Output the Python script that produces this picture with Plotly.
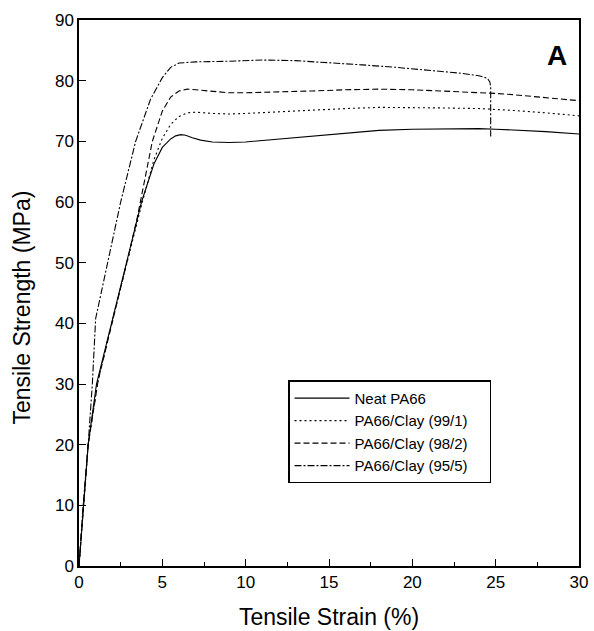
import plotly.graph_objects as go

# ---- data ----
neat_x = [0, 0.27, 0.55, 1.05, 2, 3, 3.75, 4.5, 5, 5.5, 5.8, 6.1, 6.4, 6.8, 7.3, 8, 9, 10, 12, 14, 16, 18, 20, 22, 24, 25, 26, 28, 30]
neat_y = [0, 10, 20, 30, 40.5, 51.5, 60, 66.3, 69.0, 70.4, 70.9, 71.1, 71.0, 70.6, 70.2, 69.9, 69.8, 69.9, 70.4, 70.9, 71.4, 71.8, 72.0, 72.1, 72.1, 72.0, 71.9, 71.6, 71.2]

c991_x = [0, 0.27, 0.55, 1.1, 2, 3, 3.8, 4.5, 5, 5.5, 6, 6.5, 7, 8, 9, 10, 12, 14, 16, 18, 20, 22, 24, 25, 26, 28, 30]
c991_y = [0, 10, 20, 30, 40.5, 51.3, 60, 67, 70.5, 72.8, 74.1, 74.7, 74.8, 74.6, 74.5, 74.6, 74.9, 75.2, 75.4, 75.6, 75.6, 75.5, 75.4, 75.3, 75.1, 74.7, 74.2]

c982_x = [0, 0.27, 0.55, 1.15, 2, 3, 3.5, 4.4, 5, 5.5, 6, 6.5, 7, 8, 9, 10, 12, 14, 16, 18, 20, 22, 24, 25, 26, 28, 30]
c982_y = [0, 10, 20, 30.6, 40, 51.5, 57.5, 70, 75, 77.3, 78.3, 78.6, 78.5, 78.2, 78.0, 78.0, 78.1, 78.3, 78.5, 78.6, 78.5, 78.3, 78.1, 77.9, 77.7, 77.2, 76.7]

c955_x = [0, 0.25, 0.55, 0.8, 1.0, 2.5, 3.4, 4.3, 5.0, 5.5, 6, 7, 9, 11, 13, 15, 17, 19, 21, 23, 24, 24.5, 24.65, 24.7, 24.7]
c955_y = [0, 10, 20, 30, 40.8, 60, 70, 77, 80.5, 82.2, 82.9, 83.1, 83.2, 83.4, 83.3, 83.0, 82.6, 82.2, 81.7, 81.2, 80.8, 80.4, 79.8, 79.0, 70.8]

series = [
    ("Neat PA66", neat_x, neat_y, "solid"),
    ("PA66/Clay (99/1)", c991_x, c991_y, "2px,3px"),
    ("PA66/Clay (98/2)", c982_x, c982_y, "6px,3px"),
    ("PA66/Clay (95/5)", c955_x, c955_y, "7px,2px,2px,2px"),
]

x_ticks = [0, 5, 10, 15, 20, 25, 30]
y_ticks = [0, 10, 20, 30, 40, 50, 60, 70, 80, 90]

FONT = "Liberation Sans, Arial"
PAD = "\u00a0" * 4

fig = go.Figure()
for name, xs, ys, dash in series:
    fig.add_trace(go.Scatter(x=xs, y=ys, mode="lines", name=name + PAD,
                             line=dict(color="black", width=1.1, dash=dash)))

axis_common = dict(showline=True, linecolor="black", linewidth=1.5, mirror=True,
                   ticks="inside", ticklen=7, tickwidth=1.2, tickcolor="black",
                   showgrid=False, zeroline=False, automargin=False,
                   tickfont=dict(family=FONT, size=17, color="black"))

fig.update_xaxes(range=[0, 30], tickvals=x_ticks,
                 minor=dict(dtick=2.5, ticks="inside", ticklen=4, tickwidth=1.2, tickcolor="black"),
                 title=dict(text="Tensile Strain (%)", standoff=18,
                            font=dict(family=FONT, size=23, color="black")),
                 **axis_common)
fig.update_yaxes(range=[0, 90], tickvals=y_ticks, **axis_common)

# y-axis title (placed to match the reference, slightly below the axis centre)
fig.add_annotation(text="Tensile Strength (MPa)", xref="paper", yref="paper",
                   x=-0.113, y=0.4725, textangle=-90, showarrow=False,
                   xanchor="center", yanchor="middle",
                   font=dict(family=FONT, size=23, color="black"))

fig.add_annotation(text="<b>A</b>", xref="paper", yref="paper", x=0.98, y=0.935,
                   xanchor="right", yanchor="middle", showarrow=False,
                   font=dict(family=FONT, size=28, color="black"))

fig.update_layout(
    width=594, height=631,
    margin=dict(l=79, r=15, t=20, b=65),
    plot_bgcolor="white", paper_bgcolor="white",
    showlegend=True,
    legend=dict(x=0.418, y=0.34, xanchor="left", yanchor="top",
                bordercolor="black", borderwidth=1.5, bgcolor="white",
                font=dict(family=FONT, size=15, color="black"),
                itemwidth=55, tracegroupgap=0),
)

fig.write_html("out.html", config={"displayModeBar": False},
               post_script="document.body.style.margin='0';")
